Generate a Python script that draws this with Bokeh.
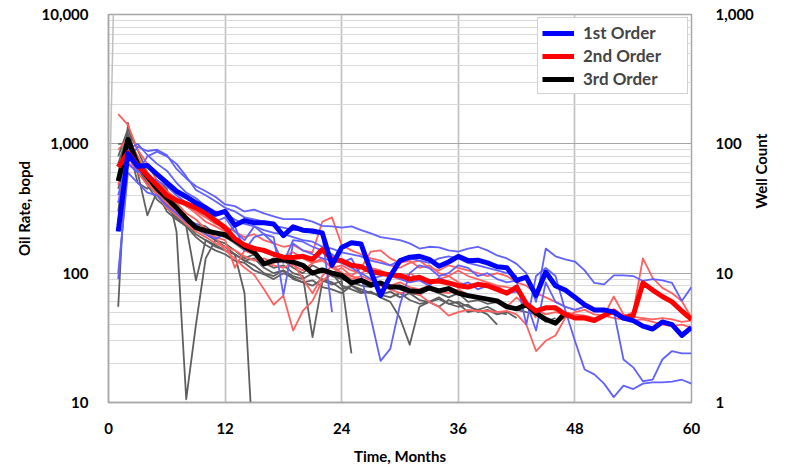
import math
from bokeh.plotting import figure
from bokeh.models import (Range1d, LogAxis, FixedTicker, NumeralTickFormatter,
                          Legend, LegendItem)
from bokeh.embed import file_html
from bokeh.resources import INLINE

# ---------------- data ----------------
x_ticks = [0, 12, 24, 36, 48, 60]
oil_ticks = [10, 100, 1000, 10000]
well_ticks = [1, 10, 100, 1000]

first_order = [210, 840, 670, 680, 580, 500, 430, 390, 350, 320,
               285, 300, 235, 255, 245, 245, 240, 195, 228, 215,
               212, 205, 115, 158, 172, 168, 103, 67, 95, 125,
               133, 135, 128, 113, 122, 135, 125, 126, 120, 112,
               110, 88, 93, 67, 102, 80, 74, 65, 57, 52,
               52, 50, 45, 43, 39, 37, 42, 40, 33, 38]
second_order = [660, 855, 680, 570, 480, 400, 365, 345, 320, 290,
                255, 225, 185, 165, 155, 150, 140, 133, 132, 135,
                128, 152, 128, 125, 115, 112, 103, 100, 97, 96,
                90, 93, 86, 87, 84, 80, 78, 82, 80, 75,
                70, 78, 58, 51, 54, 54, 48, 45, 45, 43,
                47, 51, 45, 47, 84, 74, 66, 60, 51, 44]
third_order = [515, 1080, 700, 560, 450, 380, 320, 265, 225, 213,
               205, 198, 180, 160, 145, 118, 125, 127, 122, 115,
               100, 106, 100, 96, 84, 88, 81, 84, 78, 78,
               73, 72, 77, 73, 76, 70, 67, 65, 63, 61,
               55, 53, 57, 49, 44, 41, 49]

# individual wells, 1st order (thin blue)
well_b1 = [350, 720, 950, 880, 900, 820, 640, 540, 470, 430,
           390, 340, 330, 300, 310, 290, 275, 262, 262, 262,
           250, 232, 230, 225, 230, 215, 203, 190, 185, 180,
           170, 155, 160, 158, 150, 147, 155, 160, 150, 137,
           130, 118, 100, 60, 155, 135, 128, 123, 105, 84,
           82, 96, 96, 95, 87, 90, 88, 84, 61, 78]
well_b2 = [90, 700, 600, 800, 870, 800, 700, 560, 440, 400,
           360, 320, 300, 270, 260, 250, 232, 225, 215, 215,
           205, 200, 50]
well_b3 = [100, 600, 500, 420, 400, 330, 290, 250, 240, 200,
           185, 200, 230, 150, 190, 200, 170, 120, 180, 175,
           160, 150, 140, 120, 130, 96, 45, 21, 26, 57,
           100, 115, 110, 95, 100, 115, 110, 95, 100, 90,
           85, 88, 40, 95, 110, 95, 52, 30, 18, 16.5,
           14, 11, 13.5, 12.7, 14, 14.3, 14.3, 14.5, 15, 14]
well_b4 = [400, 800, 620, 560, 520, 470, 400, 350, 330, 300,
           250, 270, 210, 180, 230, 200, 190, 68, 170, 150,
           140, 130, 125, 120, 110, 100, 90, 95, 100, 90,
           85, 88, 80, 92, 85, 80, 85, 75, 80, 78,
           70, 72, 60, 36, 85, 60, 55, 52, 55, 53,
           52, 51, 21.5, 18.7, 14.6, 15, 21.5, 25, 24, 24]
well_b5 = [250, 900, 1000, 820, 700, 620, 500, 420, 380, 330,
           300, 290, 260, 240, 230, 215, 205, 200, 190, 180,
           175, 160, 155, 145, 140, 135, 125, 120, 115, 125,
           130, 125, 120, 130, 135, 130, 120, 115, 110, 105,
           100, 95]

# individual wells, 2nd order (thin red)
well_r1 = [1700, 1400, 900, 700, 520, 430, 380, 330, 300, 270,
           240, 230, 210, 190, 200, 180, 170, 160, 165, 150,
           145, 250, 270, 165, 150, 140, 130, 125, 115, 110,
           120, 125, 110, 105, 115, 110, 105, 100, 95, 100,
           95, 85, 80, 70, 65, 60, 55, 52, 55, 53,
           50, 48, 46, 50, 130, 92, 77, 70, 61, 45]
well_r2 = [350, 800, 600, 480, 420, 350, 300, 260, 230, 200,
           190, 150, 130, 110, 97, 75, 57, 67, 36, 51,
           61, 87, 100, 110, 95, 90, 85, 80, 75, 70,
           72, 68, 60, 55, 47, 50, 52, 51, 51, 50,
           51, 48, 40, 25, 30, 33, 45, 50, 52, 48,
           47, 45, 44, 43, 44, 42, 40, 39, 40, 38]
well_r3 = [600, 700, 650, 600, 500, 430, 370, 330, 290, 250,
           230, 210, 180, 170, 160, 145, 140, 135, 145, 130,
           120, 125, 110, 115, 105, 100, 110, 105, 95, 90,
           100, 90, 85, 90, 95, 85, 80, 82, 78, 80,
           70, 75, 60, 50, 55, 52, 50, 48, 47, 45,
           47, 66, 48, 46, 45, 44, 45, 44, 42, 43]
well_r4 = [900, 1100, 800, 600, 450, 380, 350, 290, 260, 220,
           190, 180, 110, 150, 140, 120, 115, 110, 120, 90,
           70, 95, 115, 100, 95, 110, 147, 150, 130, 120,
           125, 110, 115, 100, 95, 105, 95, 90, 85, 80,
           78, 75, 60, 45]
well_r5 = [480, 900, 700, 520, 400, 320, 280, 240, 210, 190,
           170, 160, 150, 135, 125, 130, 120, 125, 115, 105,
           120, 130, 110, 100, 90, 95, 88, 85, 80, 85,
           78, 75, 80, 72, 70, 75, 68, 65, 62, 60,
           55, 65, 55, 52, 48, 50, 48]

# individual wells, 3rd order (thin grey)
well_g1 = [55, 1450, 600, 280, 430, 380, 300, 260, 240, 230,
           200, 190, 170, 150, 140, 120, 130, 125, 110, 100,
           115, 105, 95, 90, 85, 80, 78, 85, 80, 75,
           70, 68, 75, 70, 65, 70, 60, 62, 58, 60,
           55, 52, 50, 48, 42, 45]
well_g2 = [1000, 1000, 500, 450, 520, 450, 210, 10.6, 40, 130,
           180, 170, 150, 130, 140, 120, 110, 115, 100, 95,
           32, 85, 100, 80, 75, 70, 72, 65, 60, 45,
           28, 55, 60, 65, 58, 60, 55, 52, 55, 50, 48]
well_g3 = [700, 1200, 700, 500, 400, 340, 290, 250, 220, 200,
           180, 160, 140, 70, 3]
well_g4 = [450, 900, 650, 480, 370, 320, 270, 240, 200, 180,
           165, 150, 140, 125, 130, 110, 100, 105, 95, 90,
           100, 88, 82, 87, 24]
well_g5 = [800, 1300, 900, 600, 420, 300, 260, 230, 88, 180,
           160, 150, 140, 125, 115, 100, 95, 105, 90, 85,
           80, 90, 85, 75, 80, 72, 70, 68, 65, 70,
           62, 58, 60, 55, 62, 58, 50, 52, 48, 40]
well_g6 = [300, 1100, 800, 550, 400, 330, 270, 230, 190, 165,
           150, 140, 125, 120, 105, 98, 90, 100, 92, 85,
           88, 78, 75, 70, 80, 75, 70, 68, 72, 65,
           70, 62, 60, 63, 58, 55, 57, 50, 52, 48,
           50, 45]

# well count (right axis)
well_count_months = [0, 1]
well_count = [17, 59000]

# ---------------- figure ----------------
FONT = "Lato"
GRID_MAJOR = "#A6A6A6"
GRID_MINOR = "#D9D9D9"

p = figure(width=788, height=467, y_axis_type="log",
           x_range=Range1d(0, 60), y_range=Range1d(10, 10000),
           output_backend="svg", toolbar_location=None,
           min_border_left=108, min_border_right=97,
           min_border_top=14, min_border_bottom=62)
p.extra_y_ranges = {"wc": Range1d(1, 1000)}
p.outline_line_color = GRID_MAJOR
p.outline_line_width = 1.5
p.background_fill_color = "white"
p.border_fill_color = "white"

minor = [m * 10 ** e for e in (1, 2, 3) for m in range(2, 10)]
p.yaxis.ticker = FixedTicker(ticks=oil_ticks, minor_ticks=minor)
p.yaxis.formatter = NumeralTickFormatter(format="0,0")
p.xaxis.ticker = FixedTicker(ticks=x_ticks)

for ax in (p.xaxis[0], p.yaxis[0]):
    ax.axis_line_color = GRID_MAJOR
    ax.axis_line_width = 1.5
    ax.major_tick_line_color = None
    ax.minor_tick_line_color = None
    ax.major_label_text_font = FONT
    ax.major_label_text_font_style = "bold"
    ax.major_label_text_font_size = "15px"
    ax.major_label_text_color = "black"
    ax.axis_label_text_font = FONT
    ax.axis_label_text_font_style = "bold"
    ax.axis_label_text_font_size = "15px"
    ax.axis_label_text_color = "black"

p.xaxis.axis_label = "Time, Months"
p.yaxis.axis_label = "Oil Rate, bopd"
p.xaxis.major_label_standoff = 14
p.yaxis.major_label_standoff = 14
p.xaxis.axis_label_standoff = 10
p.yaxis.axis_label_standoff = 5

right = LogAxis(y_range_name="wc", ticker=FixedTicker(ticks=well_ticks),
                formatter=NumeralTickFormatter(format="0,0"),
                axis_label="Well Count")
right.axis_line_color = None
right.major_tick_line_color = None
right.minor_tick_line_color = None
right.major_label_text_font = FONT
right.major_label_text_font_style = "bold"
right.major_label_text_font_size = "15px"
right.major_label_text_color = "black"
right.major_label_standoff = 18
right.axis_label_text_font = FONT
right.axis_label_text_font_style = "bold"
right.axis_label_text_font_size = "15px"
right.axis_label_text_color = "black"
right.axis_label_standoff = 4
try:
    right.axis_label_orientation = math.pi / 2
except Exception:
    pass
p.add_layout(right, "right")

p.ygrid.grid_line_color = GRID_MAJOR
p.ygrid.grid_line_width = 1.2
p.ygrid.minor_grid_line_color = GRID_MINOR
p.ygrid.minor_grid_line_width = 1.2
p.xgrid.grid_line_color = "#BFBFBF"
p.xgrid.grid_line_width = 1.6

def months_for(v):
    return list(range(1, len(v) + 1))

p.line(well_count_months, well_count, y_range_name="wc",
       line_color="#BFBFBF", line_width=1.5)

for s in (well_g1, well_g2, well_g3, well_g4, well_g5, well_g6):
    p.line(months_for(s), s, line_color="#5F5F5F", line_width=1.8,
           line_join="round")
for s in (well_r1, well_r2, well_r3, well_r4, well_r5):
    p.line(months_for(s), s, line_color="#FF6161", line_width=1.8,
           line_join="round")
for s in (well_b1, well_b2, well_b3, well_b4, well_b5):
    p.line(months_for(s), s, line_color="#6161FF", line_width=1.8,
           line_join="round")

r3 = p.line(months_for(third_order), third_order, line_color="black",
            line_width=5, line_join="round")
r2 = p.line(months_for(second_order), second_order, line_color="#FF0000",
            line_width=5, line_join="round")
r1 = p.line(months_for(first_order), first_order, line_color="#0000FF",
            line_width=5, line_join="round")

legend = Legend(items=[LegendItem(label="1st Order", renderers=[r1]),
                       LegendItem(label="2nd Order", renderers=[r2]),
                       LegendItem(label="3rd Order", renderers=[r3])],
                location="top_right")
legend.margin = 3
legend.padding = 4
legend.spacing = 2
legend.glyph_width = 32
legend.glyph_height = 20
legend.label_height = 20
legend.label_width = 100
legend.label_standoff = 9
legend.label_text_font = FONT
legend.label_text_font_style = "bold"
legend.label_text_font_size = "17px"
legend.border_line_color = GRID_MAJOR
legend.border_line_width = 1.2
legend.background_fill_alpha = 1
p.add_layout(legend)

open("out.html", "w").write(file_html(p, INLINE))
